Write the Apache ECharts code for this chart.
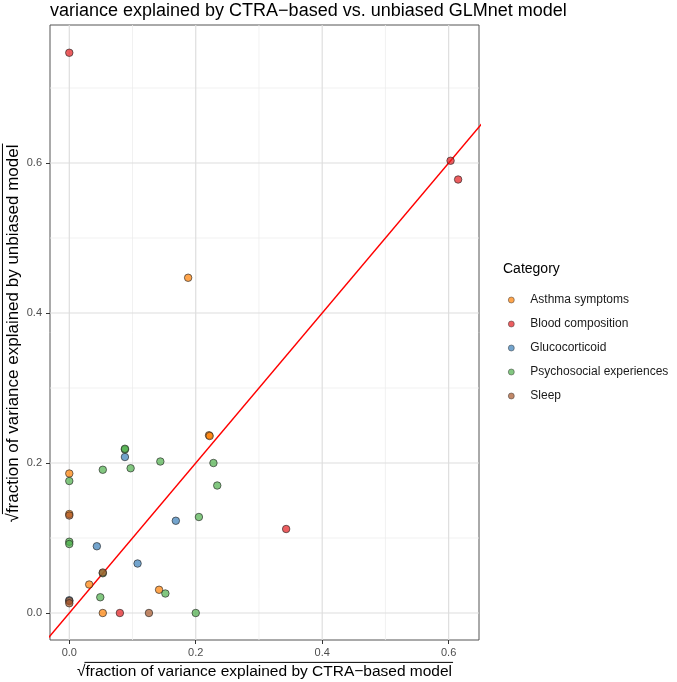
<!DOCTYPE html>
<html>
<head>
<meta charset="utf-8">
<script src="https://cdn.jsdelivr.net/npm/echarts@6/dist/echarts.min.js"></script>
<style>
html,body{margin:0;padding:0;background:#fff;}
#c{width:677px;height:682px;}
</style>
</head>
<body>
<div id="c"></div>
<script>
const categories = ['Asthma symptoms','Blood composition','Glucocorticoid','Psychosocial experiences','Sleep'];
const colors = ['#FF7F00','#E41A1C','#377EB8','#4DAF4A','#A65628'];

const asthmaX = [0, 0, 0.188, 0.0315, 0.053, 0.142, 0.221, 0.222];
const asthmaY = [0.186, 0.132, 0.447, 0.038, 0, 0.031, 0.237, 0.236];
const bloodX = [0, 0.603, 0.615, 0.080, 0.343];
const bloodY = [0.747, 0.603, 0.578, 0, 0.112];
const glucoX = [0.0436, 0.088, 0.108, 0.1685, 0];
const glucoY = [0.089, 0.208, 0.066, 0.123, 0.017];
const psychX = [0, 0, 0, 0.049, 0.053, 0.088, 0.088, 0.097, 0.144, 0.152, 0.205, 0.228, 0.234, 0.200, 0.053];
const psychY = [0.176, 0.095, 0.092, 0.021, 0.191, 0.218, 0.219, 0.193, 0.202, 0.026, 0.128, 0.200, 0.170, 0, 0.053];
const sleepX = [0, 0, 0, 0.126, 0.053];
const sleepY = [0.130, 0.016, 0.013, 0, 0.054];

const xTicks = [0, 0.2, 0.4, 0.6];
const xMinor = [0.1, 0.3, 0.5];
const yTicks = [0, 0.2, 0.4, 0.6];
const yMinor = [0.1, 0.3, 0.5, 0.7];
const xRange = [-0.0305, 0.648];
const yRange = [-0.036, 0.784];
const refLine = [[-1, -1], [1, 1]]; // y = x

const titleText = 'variance explained by CTRA\u2212based vs. unbiased GLMnet model';
const xTitle = 'fraction of variance explained by CTRA\u2212based model';
const yTitle = 'fraction of variance explained by unbiased model';

const FONT = '"Liberation Sans", Arial, sans-serif';
const xs = [asthmaX, bloodX, glucoX, psychX, sleepX];
const ys = [asthmaY, bloodY, glucoY, psychY, sleepY];

const chart = echarts.init(document.getElementById('c'), null, {renderer: 'canvas'});

const G = {left: 50, right: 198, top: 25, bottom: 42};
const panelCx = (50 + (677 - 198)) / 2;
const panelCy = (25 + (682 - 42)) / 2;

function measure(text, size) {
  const c = document.createElement('canvas').getContext('2d');
  c.font = size + 'px ' + FONT;
  return c.measureText(text).width;
}

function sqrtTitle(text, size, cx, cy, rotate) {
  const rw = measure('\u221A', size);
  const tw = measure(text, size);
  const total = rw + tw;
  const x0 = -total / 2;
  return {
    type: 'group', x: cx, y: cy, rotation: rotate ? Math.PI / 2 : 0,
    children: [
      {type: 'text', x: x0, y: 0, style: {text: '\u221A', font: size + 'px ' + FONT, fill: '#000', textVerticalAlign: 'middle', textAlign: 'left'}},
      {type: 'text', x: x0 + rw, y: 0, style: {text: text, font: size + 'px ' + FONT, fill: '#000', textVerticalAlign: 'middle', textAlign: 'left'}},
      {type: 'line', shape: {x1: x0 + rw - 1, y1: -size * 0.62, x2: x0 + total + 1, y2: -size * 0.62}, style: {stroke: '#000', lineWidth: 1}}
    ]
  };
}

const series = [];
function gridSeries(v, isX, major) {
  return {
    type: 'line', z: 0, silent: true, showSymbol: false, symbol: 'none',
    data: isX ? [[v, yRange[0]], [v, yRange[1]]] : [[xRange[0], v], [xRange[1], v]],
    lineStyle: {color: major ? '#dedede' : '#eeeeee', width: major ? 1.2 : 0.8, opacity: 1},
    emphasis: {disabled: true}
  };
}
xMinor.forEach(v => series.push(gridSeries(v, true, false)));
yMinor.forEach(v => series.push(gridSeries(v, false, false)));
xTicks.forEach(v => series.push(gridSeries(v, true, true)));
yTicks.forEach(v => series.push(gridSeries(v, false, true)));

series.push({
  type: 'line', data: refLine, z: 1, clip: true, silent: true,
  showSymbol: false, symbol: 'none', lineStyle: {color: '#FF0000', width: 1.4},
  emphasis: {disabled: true}
});
categories.forEach((cat, i) => {
  series.push({
    type: 'scatter', name: cat, z: 2,
    data: xs[i].map((x, j) => [x, ys[i][j]]),
    symbol: 'circle', symbolSize: 7.5,
    itemStyle: {color: echarts.color.modifyAlpha(colors[i], 0.88), borderColor: '#222', borderWidth: 0.8},
    emphasis: {disabled: true}
  });
});

const option = {
  animation: false,
  backgroundColor: '#fff',
  textStyle: {fontFamily: FONT},
  grid: {left: G.left, right: G.right, top: G.top, bottom: G.bottom, show: true, borderColor: '#555', borderWidth: 1, backgroundColor: 'transparent'},
  xAxis: {
    type: 'value', min: xRange[0], max: xRange[1],
    axisLine: {show: false, onZero: false},
    splitLine: {show: false},
    axisTick: {show: true, length: 4, lineStyle: {color: '#333'}, customValues: xTicks},
    axisLabel: {show: true, margin: 7, color: '#4d4d4d', fontSize: 11, fontFamily: FONT, customValues: xTicks, formatter: v => v.toFixed(1)}
  },
  yAxis: {
    type: 'value', min: yRange[0], max: yRange[1],
    axisLine: {show: false, onZero: false},
    splitLine: {show: false},
    axisTick: {show: true, length: 4, lineStyle: {color: '#333'}, customValues: yTicks},
    axisLabel: {show: true, margin: 8, color: '#4d4d4d', fontSize: 11, fontFamily: FONT, customValues: yTicks, formatter: v => v.toFixed(1)}
  },
  legend: {
    data: categories,
    orient: 'vertical',
    left: 503, top: 289,
    itemWidth: 26, itemHeight: 6, itemGap: 12,
    icon: 'circle',
    itemStyle: {borderWidth: 0.6, borderColor: '#333'},
    textStyle: {fontSize: 12, color: '#1a1a1a', fontFamily: FONT, padding: [0, 0, 0, 1]},
    selectedMode: false
  },
  series: series,
  graphic: [
    {type: 'text', left: 50, top: 2, style: {text: titleText, font: '18px ' + FONT, fill: '#000'}},
    {type: 'text', left: 503, top: 262, style: {text: 'Category', font: '14px ' + FONT, fill: '#000'}},
    sqrtTitle(xTitle, 15.5, panelCx, 672, false),
    sqrtTitle(yTitle, 17, 13, panelCy + 1, false)
  ]
};
option.graphic[3].rotation = Math.PI / 2;
chart.setOption(option);
</script>
</body>
</html>
